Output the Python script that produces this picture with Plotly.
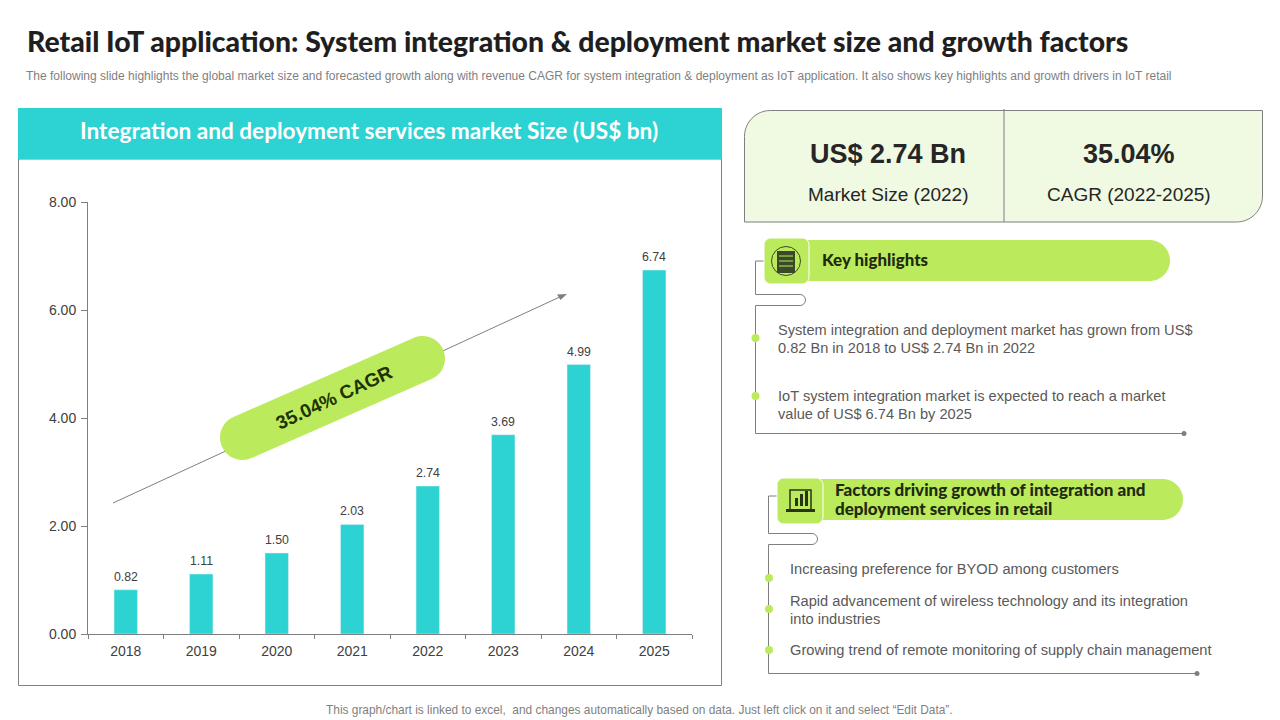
import plotly.graph_objects as go

# chart data
years = ["2018", "2019", "2020", "2021", "2022", "2023", "2024", "2025"]
market_size = [0.82, 1.11, 1.50, 2.03, 2.74, 3.69, 4.99, 6.74]
y_ticks = [0, 2, 4, 6, 8]

# texts
title = "Retail IoT application: System integration & deployment market size and growth factors"
subtitle = ("The following slide highlights the global market size and forecasted growth along with revenue CAGR "
            "for system integration & deployment as IoT application. It also shows key highlights and growth drivers in IoT retail")
panel_title = "Integration and deployment services market Size (US$ bn)"
footer = "This graph/chart is linked to excel,  and changes automatically based on data. Just left click on it and select “Edit Data”."
highlights = ["System integration and deployment market has grown from US$", "0.82 Bn in 2018 to US$ 2.74 Bn in 2022",
              "IoT system integration market is expected to reach a market", "value of US$ 6.74 Bn by 2025"]
factors = ["Increasing preference for BYOD among customers", "Rapid advancement of wireless technology and its integration",
           "into industries", "Growing trend of remote monitoring of supply chain management"]

TEAL = "#2DD2D2"
GREEN = "#BBEB5C"
PALE = "#F0F9E1"
LINE = "#7F7F7F"
DARK = "#262626"
GREY = "#595959"
W, H = 1280, 720
K = 0.5523  # bezier constant for a quarter circle

fig = go.Figure()
fig.add_trace(go.Bar(x=years, y=market_size, marker_color=TEAL, width=0.31, hoverinfo="skip"))
# invisible trace so the pixel axes exist for the shapes
fig.add_trace(go.Scatter(x=[0], y=[0], xaxis="x2", yaxis="y2", mode="markers", opacity=0, hoverinfo="skip"))

shapes = []
notes = []


def rect(x0, y0, x1, y1, fill=None, line=None, width=1):
    shapes.append(dict(type="rect", x0=x0, y0=y0, x1=x1, y1=y1, fillcolor=fill or "rgba(0,0,0,0)",
                       line=dict(color=line or "rgba(0,0,0,0)", width=width if line else 0)))


def path(d, fill=None, line=None, width=1):
    shapes.append(dict(type="path", path=d, fillcolor=fill or "rgba(0,0,0,0)",
                       line=dict(color=line or "rgba(0,0,0,0)", width=width if line else 0)))


def dot(x, y, r, fill=None, line=None):
    shapes.append(dict(type="circle", x0=x - r, y0=y - r, x1=x + r, y1=y + r, fillcolor=fill or "rgba(0,0,0,0)",
                       line=dict(color=line or "rgba(0,0,0,0)", width=1 if line else 0)))


def text(x, y, s, size, color=GREY, family="Liberation Sans", anchor="left", weight=400, angle=0):
    notes.append(dict(x=x, y=y, text=s, xref="x2", yref="y2", showarrow=False, xanchor=anchor, yanchor="middle",
                      textangle=angle, align=anchor, borderpad=0, borderwidth=0,
                      font=dict(size=size, color=color, family=family, weight=weight)))


def rounded(x0, y0, x1, y1, tl=0, tr=0, br=0, bl=0):
    c = 1 - K
    return (f"M{x0+tl},{y0} L{x1-tr},{y0} C{x1-tr*c},{y0} {x1},{y0+tr*c} {x1},{y0+tr} "
            f"L{x1},{y1-br} C{x1},{y1-br*c} {x1-br*c},{y1} {x1-br},{y1} "
            f"L{x0+bl},{y1} C{x0+bl*c},{y1} {x0},{y1-bl*c} {x0},{y1-bl} "
            f"L{x0},{y0+tl} C{x0},{y0+tl*c} {x0+tl*c},{y0} {x0+tl},{y0} Z")


def capsule(x0, y0, x1, y1, r):
    # rotated pill between two cap centres
    length = ((x1 - x0) ** 2 + (y1 - y0) ** 2) ** 0.5
    dx, dy = (x1 - x0) / length, (y1 - y0) / length
    nx, ny = dy, -dx

    def cap(cx, cy, sx, sy, s):
        a = (cx + s * r * nx, cy + s * r * ny)
        m = (cx + r * sx, cy + r * sy)
        b = (cx - s * r * nx, cy - s * r * ny)
        return (f"C{a[0]+K*r*sx},{a[1]+K*r*sy} {m[0]+s*K*r*nx},{m[1]+s*K*r*ny} {m[0]},{m[1]} "
                f"C{m[0]-s*K*r*nx},{m[1]-s*K*r*ny} {b[0]+K*r*sx},{b[1]+K*r*sy} {b[0]},{b[1]}")

    start = (x0 + r * nx, y0 + r * ny)
    return (f"M{start[0]},{start[1]} L{x1+r*nx},{y1+r*ny} {cap(x1, y1, dx, dy, 1)} "
            f"L{x0-r*nx},{y0-r*ny} {cap(x0, y0, -dx, -dy, -1)} Z")


def connector(x_start, x_stem, y_head, y_loop, loop_x, y_end, x_end):
    r = 5.5
    return (f"M{x_start},{y_head} L{x_stem},{y_head} L{x_stem},{y_loop} L{loop_x},{y_loop} "
            f"C{loop_x+K*r},{y_loop} {loop_x+r},{y_loop+r-K*r} {loop_x+r},{y_loop+r} "
            f"C{loop_x+r},{y_loop+r+K*r} {loop_x+K*r},{y_loop+2*r} {loop_x},{y_loop+2*r} "
            f"L{x_stem},{y_loop+2*r} L{x_stem},{y_end} L{x_end},{y_end}")


# title block
text(27, 40.5, title, 28.4, "#1F1F1F", "Lato", weight=900)
text(26, 75.5, subtitle, 12, "#7F7F7F")
text(639, 710, footer, 11.9, "#7F7F7F", anchor="center")

# chart panel
rect(18.5, 159, 721.5, 685.5, None, LINE)
rect(18, 108, 722, 159, TEAL)
text(369, 130, panel_title, 22.6, "#FFFFFF", "Lato", anchor="center", weight=700)

# value labels above the bars (category axis takes the index here)
for i, value in enumerate(market_size):
    notes.append(dict(x=i, y=value, text="%.2f" % value, xref="x", yref="y", showarrow=False, yanchor="bottom",
                      yshift=4, font=dict(size=12.3, color="#404040", family="Liberation Sans")))

# cagr arrow and pill
shapes.append(dict(type="line", x0=113, y0=503, x1=562, y1=296, line=dict(color=LINE, width=1)))
path("M567,294 L557,294.5 L560.5,300 Z", LINE)
path(capsule(242.5, 437.5, 422.5, 358.5, 22.5), GREEN)
text(334, 397, "35.04% CAGR", 19, "#1F3300", anchor="center", weight=700, angle=-25)

# kpi card
path(rounded(744.5, 110.5, 1262.5, 222, tl=26, br=26), PALE, LINE)
shapes.append(dict(type="line", x0=1004, y0=109, x1=1004, y1=222, line=dict(color=LINE, width=1)))
text(888, 154, "US$ 2.74 Bn", 27, DARK, anchor="center", weight=700)
text(888, 194, "Market Size (2022)", 19, DARK, anchor="center")
text(1129, 154, "35.04%", 27, DARK, anchor="center", weight=700)
text(1129, 194, "CAGR (2022-2025)", 19, DARK, anchor="center")

# key highlights header
path(connector(764, 755.5, 261, 294.5, 800, 433.5, 1184), None, LINE)
dot(1184, 433.5, 2.5, LINE)
path(rounded(785, 240, 1170, 281, tr=20.5, br=20.5), GREEN)
path(rounded(764, 238, 809, 284, 7, 7, 7, 7), GREEN, "#FFFFFF")
dot(786, 261, 14.5, None, "#3A4A28")
rect(777, 251, 795, 273, "#3A4A28")
for yy in (256, 261, 266):
    shapes.append(dict(type="line", x0=779, y0=yy, x1=793, y1=yy, line=dict(color=GREEN, width=1)))
text(822, 259.5, "Key highlights", 16.9, "#1F2A10", "Lato", weight=900)
dot(755.5, 338, 4, GREEN)
dot(755.5, 396, 4, GREEN)
for yy, s in zip((330, 348, 396, 414), highlights):
    text(778, yy, s, 14.6)

# growth factors header
path(connector(777, 768.5, 496, 533.5, 812, 673.5, 1197), None, LINE)
dot(1197, 673.5, 2.5, LINE)
path(rounded(798, 479, 1183, 520, tr=20.5, br=20.5), GREEN)
path(rounded(777, 478, 823, 524, 7, 7, 7, 7), GREEN, "#FFFFFF")
path("M790,509 L790,490 L811,490 L811,509", None, "#2A3518", 1.5)
rect(786, 509, 815, 512, "#2A3518")
rect(795, 498, 798, 506, "#2A3518")
rect(800, 494, 803, 506, "#2A3518")
rect(805, 491, 808, 506, "#2A3518")
text(835, 489.5, "Factors driving growth of integration and", 17, "#1F2A10", "Lato", weight=900)
text(835, 508.5, "deployment services in retail", 17, "#1F2A10", "Lato", weight=900)
for yy in (578, 609, 650):
    dot(769, yy, 4, GREEN)
for yy, s in zip((569, 601, 619, 650), factors):
    text(790, yy, s, 14.65)

for s in shapes:
    s.update(xref="x2", yref="y2", layer="above")

fig.update_layout(
    width=W, height=H, margin=dict(l=0, r=0, t=0, b=0), paper_bgcolor="white", plot_bgcolor="rgba(0,0,0,0)",
    showlegend=False, shapes=shapes, annotations=notes,
    font=dict(family="Liberation Sans"),
    xaxis=dict(domain=[88 / W, 692 / W], type="category", range=[-0.5, 7.5], showline=True, linecolor=LINE, ticks="outside",
               ticklen=4, tickcolor=LINE, tickson="boundaries", showgrid=False, tickfont=dict(size=14, color="#404040"),
               anchor="y", automargin=False, ticklabelstandoff=4),
    yaxis=dict(domain=[1 - 634 / H, 1 - 202 / H], range=[0, 8], tickvals=y_ticks, tickformat=".2f", showline=True,
               linecolor=LINE, ticks="outside", ticklen=6, tickcolor=LINE, showgrid=False, zeroline=False,
               tickfont=dict(size=14, color="#404040"), anchor="x", automargin=False, ticklabelstandoff=2),
    xaxis2=dict(domain=[0, 1], range=[0, W], visible=False, anchor="y2", automargin=False),
    yaxis2=dict(domain=[0, 1], range=[H, 0], visible=False, anchor="x2", automargin=False),
)

fig.write_html("out.html", post_script="document.body.style.margin='0';", config=dict(displayModeBar=False))
